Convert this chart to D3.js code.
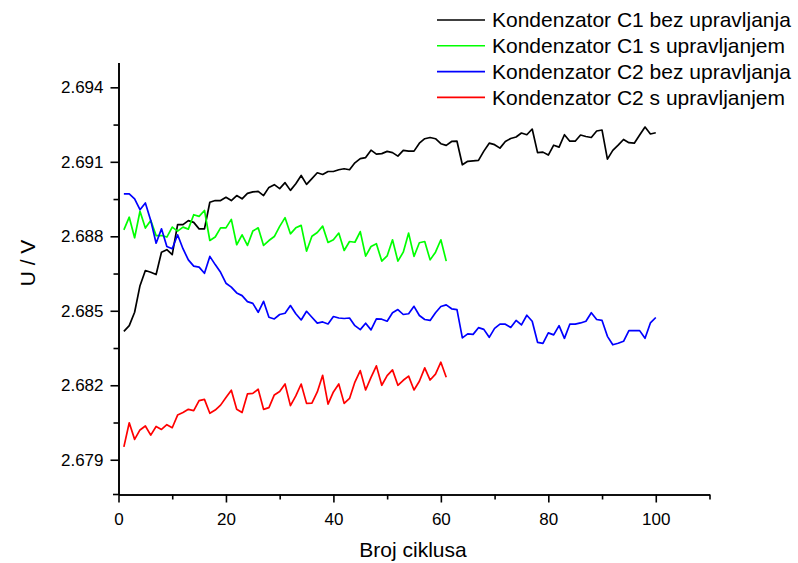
<!DOCTYPE html>
<html>
<head>
<meta charset="utf-8">
<script src="https://cdn.jsdelivr.net/npm/d3@7"></script>
<style>
html,body{margin:0;padding:0;background:#fff;}
svg{display:block;font-family:"Liberation Sans",Arial,sans-serif;}
</style>
</head>
<body>
<svg id="chart" width="798" height="563"></svg>
<script>
const seriesNames = ["Kondenzator C1 bez upravljanja","Kondenzator C1 s upravljanjem","Kondenzator C2 bez upravljanja","Kondenzator C2 s upravljanjem"];
const seriesColors = ["#000000","#00ff00","#0000ff","#ff0000"];

const c1Bez = [2.68417,2.6844,2.68494,2.68601,2.68662,2.68655,2.68646,2.68736,2.68746,2.68726,
2.68847,2.68847,2.68863,2.68856,2.6883,2.6883,2.68937,2.68944,2.68944,2.68957,
2.68944,2.68964,2.68951,2.68973,2.68979,2.68981,2.68964,2.68997,2.69008,2.68992,
2.69016,2.68985,2.69012,2.69045,2.69009,2.69032,2.69056,2.69049,2.69061,2.69061,
2.69068,2.69072,2.69068,2.69096,2.69113,2.69117,2.69147,2.69131,2.69133,2.69142,
2.69137,2.69123,2.69146,2.69143,2.69143,2.69175,2.69193,2.69198,2.69193,2.69173,
2.69166,2.69182,2.69183,2.69088,2.69102,2.69104,2.69106,2.69143,2.69175,2.69169,
2.69155,2.69182,2.69194,2.692,2.69216,2.69209,2.69232,2.69137,2.69139,2.69127,
2.69167,2.69159,2.69209,2.69183,2.69183,2.69208,2.69202,2.69198,2.69224,2.69228,
2.69111,2.69146,2.69167,2.6919,2.69177,2.69175,2.69208,2.6924,2.69212,2.69217];

const c1S = [2.68826,2.68877,2.68794,2.68901,2.68833,2.68864,2.68803,2.68803,2.68797,2.68837,
2.68821,2.68837,2.68829,2.68887,2.6888,2.68904,2.68783,2.68797,2.68834,2.68834,
2.68868,2.68766,2.68806,2.68763,2.68821,2.68834,2.68763,2.68783,2.68799,2.6884,
2.68875,2.6881,2.68834,2.68844,2.6874,2.688,2.68815,2.68841,2.68775,2.68786,
2.68813,2.68743,2.68779,2.68776,2.68819,2.6872,2.68759,2.6877,2.687,2.68721,
2.68786,2.687,2.68736,2.68813,2.68719,2.68774,2.68779,2.68705,2.68736,2.68786,
2.687];

const c2Bez = [2.68971,2.68971,2.68951,2.68907,2.68934,2.68864,2.68772,2.6883,2.68759,2.6875,
2.68806,2.6875,2.68705,2.6868,2.68676,2.68651,2.68719,2.68686,2.68655,2.68611,
2.68595,2.68572,2.68561,2.68537,2.6853,2.68494,2.68538,2.68474,2.68467,2.68485,
2.6849,2.68521,2.68488,2.68463,2.68498,2.68474,2.6845,2.68455,2.68447,2.68477,
2.68471,2.68469,2.68471,2.6844,2.68424,2.6845,2.68423,2.68467,2.68466,2.68458,
2.68492,2.68505,2.68485,2.68488,2.68518,2.68481,2.68465,2.68461,2.68492,2.68517,
2.68524,2.68508,2.68505,2.68391,2.68407,2.68405,2.68432,2.68425,2.68393,2.68429,
2.68446,2.68446,2.68433,2.68461,2.68443,2.68482,2.68458,2.68373,2.68369,2.68411,
2.68403,2.6844,2.68389,2.68446,2.68446,2.68451,2.68458,2.68492,2.68465,2.68461,
2.68397,2.68363,2.68369,2.68377,2.6842,2.6842,2.6842,2.68389,2.68451,2.68473];

const c2S = [2.67952,2.68049,2.67982,2.6802,2.68036,2.67999,2.68034,2.68022,2.68041,2.68029,
2.6808,2.6809,2.68103,2.68098,2.68138,2.68143,2.68087,2.681,2.6812,2.68151,
2.6818,2.68103,2.6809,2.68165,2.68167,2.68184,2.68103,2.6811,2.68161,2.68175,
2.68205,2.68118,2.68157,2.68205,2.68127,2.68128,2.68173,2.6824,2.68124,2.68173,
2.68205,2.68127,2.68147,2.68213,2.68259,2.68181,2.68232,2.68278,2.682,2.68239,
2.68262,2.682,2.6822,2.68237,2.68181,2.68216,2.6827,2.68221,2.68245,2.68293,
2.68232];

const xMajorTicks = [0,20,40,60,80,100];
const xMinorTicks = [10,30,50,70,90,110];
const yMajorTicks = [2.679,2.682,2.685,2.688,2.691,2.694];
const yMinorTicks = [2.6805,2.6835,2.6865,2.6895,2.6925];
const xTitle = "Broj ciklusa";
const yTitle = "U / V";

const allSeries = [c1Bez, c1S, c2Bez, c2S];

const svg = d3.select("#chart");
const x = d3.scaleLinear().domain([0,110]).range([118.5,709.5]);
const y = d3.scaleLinear().domain([2.6776,2.695]).range([494.5,62.5]);

// data lines
const line = d3.line().x(d=>x(d[0])).y(d=>y(d[1]));
allSeries.forEach((s,i)=>{
  svg.append("path")
    .datum(s.map((v,j)=>[j+1,v]))
    .attr("fill","none")
    .attr("stroke",seriesColors[i])
    .attr("stroke-width",1.7)
    .attr("stroke-linejoin","round")
    .attr("d",line);
});

// axes
const axisStyle = g=>{
  g.selectAll(".domain").attr("stroke","#000").attr("stroke-width",1.6);
  g.selectAll(".tick line").attr("stroke","#000").attr("stroke-width",1.6);
  g.selectAll(".tick text").attr("fill","#000").style("font-size","17px").style("font-family","'Liberation Sans',Arial,sans-serif");
};
svg.append("g").attr("transform","translate(0,494.5)")
  .call(d3.axisBottom(x).tickValues(xMinorTicks).tickSize(5).tickSizeOuter(0).tickFormat(""))
  .call(axisStyle);
svg.append("g").attr("transform","translate(0,494.5)")
  .call(d3.axisBottom(x).tickValues(xMajorTicks).tickSize(8).tickSizeOuter(0).tickPadding(10).tickFormat(d3.format("d")))
  .call(axisStyle);
svg.append("g").attr("transform","translate(118.5,0)")
  .call(d3.axisLeft(y).tickValues(yMinorTicks).tickSize(5).tickSizeOuter(0).tickFormat(""))
  .call(axisStyle);
svg.append("g").attr("transform","translate(118.5,0)")
  .call(d3.axisLeft(y).tickValues(yMajorTicks).tickSize(8).tickSizeOuter(0).tickPadding(7).tickFormat(d3.format(".3f")))
  .call(axisStyle);
// small extension of x axis to the left
svg.append("line").attr("x1",113).attr("x2",118.5).attr("y1",494.5).attr("y2",494.5).attr("stroke","#000").attr("stroke-width",1.6);

// titles
svg.append("text").attr("x",413).attr("y",557).attr("text-anchor","middle")
  .style("font-size","21px").text(xTitle);
svg.append("text").attr("transform","translate(35,263) rotate(-90)").attr("text-anchor","middle")
  .style("font-size","21px").text(yTitle);

// legend
const lg = svg.append("g");
seriesNames.forEach((n,i)=>{
  const yy = 20 + i*25.8;
  lg.append("line").attr("x1",437).attr("x2",485).attr("y1",yy).attr("y2",yy)
    .attr("stroke",seriesColors[i]).attr("stroke-width",1.6);
  lg.append("text").attr("x",492).attr("y",yy).attr("dy","0.35em")
    .style("font-size","21px").text(n);
});
</script>
</body>
</html>
